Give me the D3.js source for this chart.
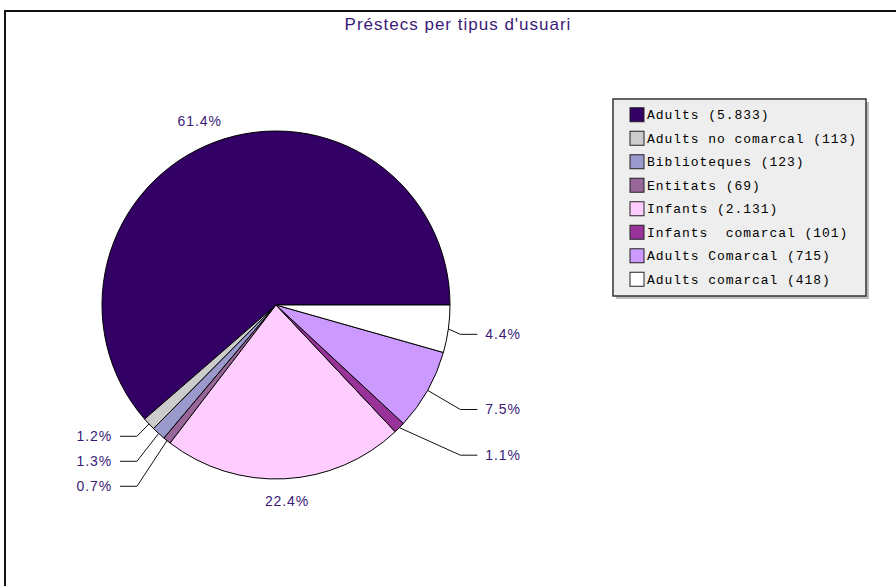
<!DOCTYPE html>
<html>
<head>
<meta charset="utf-8">
<script src="https://cdn.jsdelivr.net/npm/d3@7"></script>
<style>
  body { margin: 0; background: #fff; }
  svg { display: block; }
</style>
</head>
<body>
<svg width="896" height="586"></svg>
<script>
// Préstecs per tipus d'usuari: pie, anticlockwise from 3 o'clock.
const categories = ['Adults', 'Adults no comarcal', 'Biblioteques', 'Entitats',
  'Infants', 'Infants  comarcal', 'Adults Comarcal', 'Adults comarcal'];
const values = [5833, 113, 123, 69, 2131, 101, 715, 418];
const valueLabels = ['5.833', '113', '123', '69', '2.131', '101', '715', '418'];
const colors = ['#330066', '#cccccc', '#9999cc', '#996699', '#ffccff', '#993399', '#cc99ff', '#ffffff'];

const svg = d3.select('svg');
const cx = 276, cy = 305, r = 174;
const textCol = '#3a1a78';
const total = d3.sum(values);

// frame
svg.append('rect')
  .attr('x', 5).attr('y', 11).attr('width', 1000).attr('height', 1000)
  .attr('fill', 'none').attr('stroke', '#111').attr('stroke-width', 2);

// title
svg.append('text')
  .attr('x', 458).attr('y', 30)
  .attr('text-anchor', 'middle')
  .style('font', '17px "Liberation Sans", Arial, sans-serif')
  .style('letter-spacing', '1px')
  .attr('fill', textCol)
  .text("Préstecs per tipus d'usuari");

// pie
const pieGen = d3.pie().value(d => d).sort(null)
  .startAngle(Math.PI / 2).endAngle(Math.PI / 2 - 2 * Math.PI);
const slices = pieGen(values);
const arc = d3.arc().innerRadius(0).outerRadius(r);

const g = svg.append('g').attr('transform', `translate(${cx},${cy})`);
g.selectAll('path')
  .data(slices)
  .enter()
  .append('path')
  .attr('d', arc)
  .attr('fill', (d, i) => colors[i])
  .attr('stroke', '#000')
  .attr('stroke-width', 1)
  .attr('stroke-linejoin', 'bevel');

// labels
const pct = v => (v / total * 100).toFixed(1) + '%';
const labelFont = '14px "Liberation Sans", Arial, sans-serif';
const mid = d => (d.startAngle + d.endAngle) / 2;
const pt = (a, rad) => [Math.sin(a) * rad, -Math.cos(a) * rad];

const small = [], big = [];
slices.forEach((d, i) => {
  if (d.value / total < 0.1) small.push(d);
  else big.push(d);
});

// big slices: plain labels
big.forEach(d => {
  const a = mid(d);
  const [x, y] = pt(a, 196);
  g.append('text')
    .attr('x', x + Math.sin(a) * 22).attr('y', y)
    .attr('dy', '0.35em')
    .attr('text-anchor', 'middle')
    .style('font', labelFont)
    .style('letter-spacing', '0.9px')
    .attr('fill', textCol)
    .text(pct(d.value));
});

// small slices: leader lines, labels spread per side
const R = 213, gap = 25;
const items = small.map(d => {
  const a = mid(d);
  const side = Math.sin(a) >= 0 ? 1 : -1;
  return { d, a, side, ex: pt(a, r)[0], ey: pt(a, r)[1], y: pt(a, R)[1] };
});
[1, -1].forEach(side => {
  const s = items.filter(o => o.side === side).sort((p, q) => p.y - q.y);
  const edge = side > 0 ? d3.max(s, o => o.ex) : d3.min(s, o => o.ex);
  s.forEach(o => { o.kx = edge + side * 12; });
  for (let k = 0; k < 200; k++) {
    for (let j = 1; j < s.length; j++) {
      const diff = s[j].y - s[j - 1].y;
      if (diff < gap) {
        const m = (gap - diff) / 2;
        s[j - 1].y -= m;
        s[j].y += m;
      }
    }
  }
});

items.forEach(o => {
  const lx = o.kx + o.side * 17;
  g.append('polyline')
    .attr('points', [[o.ex, o.ey], [o.kx, o.y], [lx, o.y]].map(p => p.join(',')).join(' '))
    .attr('fill', 'none')
    .attr('stroke', '#111')
    .attr('stroke-width', 1);
  g.append('text')
    .attr('x', lx + o.side * 8).attr('y', o.y)
    .attr('dy', '0.35em')
    .attr('text-anchor', o.side > 0 ? 'start' : 'end')
    .style('font', labelFont)
    .style('letter-spacing', '0.9px')
    .attr('fill', textCol)
    .text(pct(o.d.value));
});

// legend
const lx0 = 613, ly0 = 99, lw = 253, lh = 197;
svg.append('rect')
  .attr('x', lx0 + 3).attr('y', ly0 + 3).attr('width', lw).attr('height', lh)
  .attr('fill', '#bdbdbd');
svg.append('rect')
  .attr('x', lx0).attr('y', ly0).attr('width', lw).attr('height', lh)
  .attr('fill', '#eeeeee').attr('stroke', '#333').attr('stroke-width', 1.5);

const rowY = d3.scaleBand().domain(d3.range(categories.length))
  .range([ly0 + 4, ly0 + lh - 5]);
const leg = svg.append('g').selectAll('g')
  .data(categories)
  .enter()
  .append('g')
  .attr('transform', (d, i) => `translate(${lx0 + 17},${rowY(i) + rowY.bandwidth() / 2})`);
leg.append('rect')
  .attr('x', 0).attr('y', -7).attr('width', 14).attr('height', 14)
  .attr('fill', (d, i) => colors[i])
  .attr('stroke', '#222').attr('stroke-width', 1);
leg.append('text')
  .attr('x', 17).attr('y', 0).attr('dy', '0.35em')
  .style('font', '13px "Liberation Mono", "DejaVu Sans Mono", monospace')
  .style('letter-spacing', '0.95px')
  .style('white-space', 'pre')
  .attr('fill', '#000')
  .text((d, i) => `${d} (${valueLabels[i]})`);
</script>
</body>
</html>
